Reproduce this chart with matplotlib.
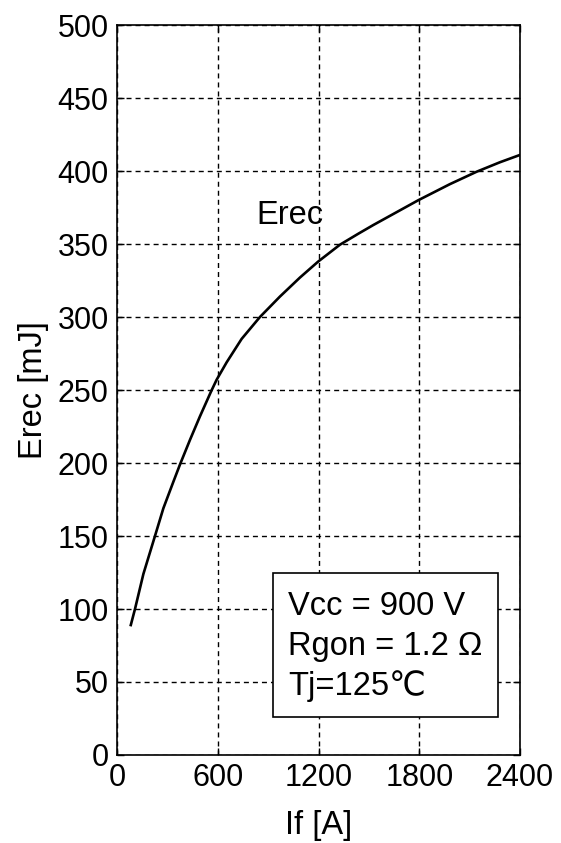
import numpy as np
import matplotlib.pyplot as plt
from matplotlib.patches import Rectangle

plt.rcParams['font.family'] = ['Liberation Sans', 'DejaVu Sans']

# curve
if_amps = [82, 107, 157, 226, 276, 335, 375, 435, 494, 560, 593, 653, 742, 851,
           970, 1089, 1198, 1327, 1436, 1526, 1794, 1982, 2141, 2280, 2399]
erec_mj = [89, 100, 124, 150, 169, 187, 199, 216, 232, 249, 257, 269, 285, 300,
           314, 327, 338, 349.5, 357, 363, 380, 391, 399.5, 406, 411]

x_ticks = [0, 600, 1200, 1800, 2400]
y_ticks = list(range(0, 501, 50))
cond_lines = ["Vcc = 900 V", "Rgon = 1.2 \u03a9", "Tj=125\u2103"]

fig = plt.figure(figsize=(5.61, 8.43), dpi=100)
ax = fig.add_axes([0.2086, 0.1044, 0.7184, 0.8659])

ax.plot(if_amps, erec_mj, color='black', linewidth=1.9)

ax.set_xlim(0, 2400)
ax.set_ylim(0, 500)
ax.set_xticks(x_ticks)
ax.set_yticks(y_ticks)
ax.grid(True, color='black', linestyle=(0, (3.6, 2.9)), linewidth=1.0)
ax.tick_params(direction='in', length=5, width=1, top=True, right=True,
               labelsize=22, pad=6)
for s in ax.spines.values():
    s.set_linewidth(1.2)

ax.set_xlabel('If [A]', fontsize=23.5, labelpad=12)
ax.set_ylabel('Erec [mJ]', fontsize=23.5, labelpad=6)

ax.text(827, 364, 'Erec', fontsize=23.5, ha='left', va='baseline')

# conditions box
ax.add_patch(Rectangle((929, 26), 1339, 99, facecolor='white',
                       edgecolor='black', linewidth=1.2, zorder=3))
for txt, yb in zip(cond_lines, [95.9, 68.5, 41.1]):
    ax.text(1018, yb, txt, fontsize=23.5, ha='left', va='baseline', zorder=4)

fig.savefig('out.png', dpi=100)
